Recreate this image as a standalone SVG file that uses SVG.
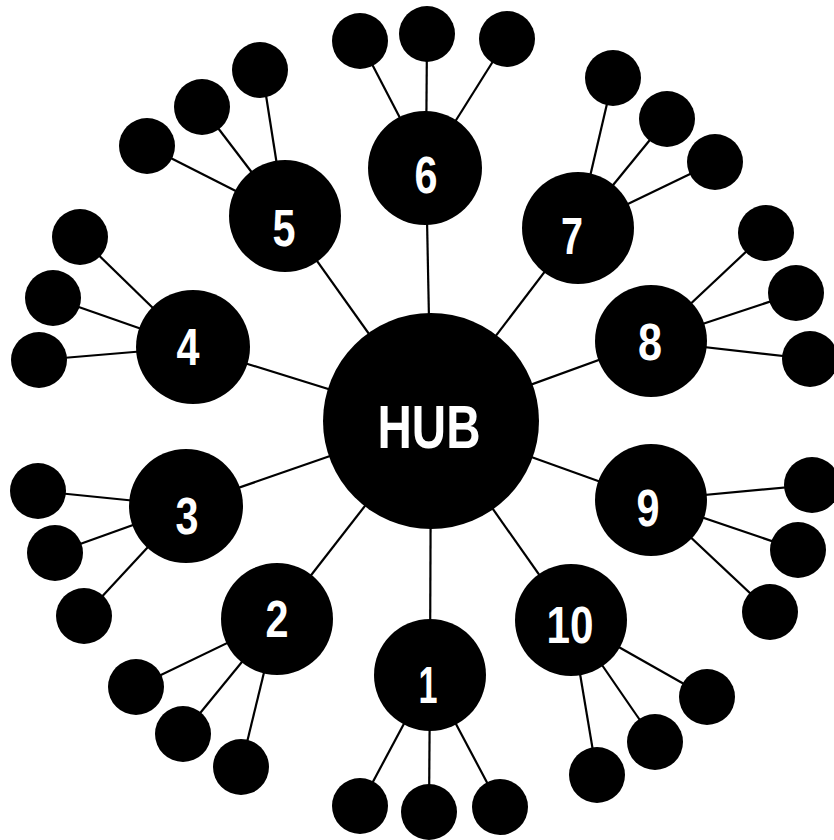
<svg xmlns="http://www.w3.org/2000/svg" width="834" height="840" viewBox="0 0 834 840">
<style>
.e{stroke:#000;stroke-width:2.2;fill:none}
.n{fill:#000}
.t{fill:#fff;font-family:"Liberation Sans",Arial,sans-serif;font-weight:bold;text-anchor:middle}
.d{font-size:52px}
.h{font-size:61px}
</style>
<rect width="834" height="840" fill="#fff"/>
<g id="connectors" class="e">
<line x1="431" y1="421" x2="430" y2="675"/>
<line x1="431" y1="421" x2="277" y2="619"/>
<line x1="431" y1="421" x2="186" y2="506"/>
<line x1="431" y1="421" x2="193" y2="347"/>
<line x1="431" y1="421" x2="285" y2="216"/>
<line x1="431" y1="421" x2="426" y2="168"/>
<line x1="431" y1="421" x2="578" y2="228"/>
<line x1="431" y1="421" x2="651" y2="341"/>
<line x1="431" y1="421" x2="651" y2="500"/>
<line x1="431" y1="421" x2="571" y2="620"/>
<line x1="430" y1="675" x2="360" y2="806"/>
<line x1="430" y1="675" x2="429" y2="812"/>
<line x1="430" y1="675" x2="500" y2="807"/>
<line x1="277" y1="619" x2="136" y2="687"/>
<line x1="277" y1="619" x2="183" y2="734"/>
<line x1="277" y1="619" x2="241" y2="767"/>
<line x1="186" y1="506" x2="38" y2="491"/>
<line x1="186" y1="506" x2="55" y2="553"/>
<line x1="186" y1="506" x2="84" y2="616"/>
<line x1="193" y1="347" x2="80" y2="237"/>
<line x1="193" y1="347" x2="53" y2="298"/>
<line x1="193" y1="347" x2="39" y2="360"/>
<line x1="285" y1="216" x2="147" y2="146"/>
<line x1="285" y1="216" x2="202" y2="107"/>
<line x1="285" y1="216" x2="262" y2="70"/>
<line x1="426" y1="168" x2="360" y2="41"/>
<line x1="426" y1="168" x2="427" y2="34"/>
<line x1="426" y1="168" x2="507" y2="39"/>
<line x1="578" y1="228" x2="613" y2="78"/>
<line x1="578" y1="228" x2="667" y2="119"/>
<line x1="578" y1="228" x2="715" y2="162"/>
<line x1="651" y1="341" x2="766" y2="233"/>
<line x1="651" y1="341" x2="796" y2="293"/>
<line x1="651" y1="341" x2="810" y2="359"/>
<line x1="651" y1="500" x2="812" y2="485"/>
<line x1="651" y1="500" x2="798" y2="550"/>
<line x1="651" y1="500" x2="770" y2="612"/>
<line x1="571" y1="620" x2="707" y2="697"/>
<line x1="571" y1="620" x2="655" y2="742"/>
<line x1="571" y1="620" x2="597" y2="775"/>
</g>
<g id="hub"><circle class="n" cx="431" cy="421" r="108"/><text class="t h" x="429" y="448" textLength="103" lengthAdjust="spacingAndGlyphs">HUB</text></g>
<g id="node1"><circle class="n" cx="430" cy="675" r="56"/><text class="t d" x="428" y="703" textLength="19" lengthAdjust="spacingAndGlyphs">1</text>
<circle class="n" cx="360" cy="806" r="28"/><circle class="n" cx="429" cy="812" r="28"/><circle class="n" cx="500" cy="807" r="28"/></g>
<g id="node2"><circle class="n" cx="277" cy="619" r="56"/><text class="t d" x="277" y="637" textLength="23" lengthAdjust="spacingAndGlyphs">2</text>
<circle class="n" cx="136" cy="687" r="28"/><circle class="n" cx="183" cy="734" r="28"/><circle class="n" cx="241" cy="767" r="28"/></g>
<g id="node3"><circle class="n" cx="186" cy="506" r="57"/><text class="t d" x="187" y="534" textLength="23" lengthAdjust="spacingAndGlyphs">3</text>
<circle class="n" cx="38" cy="491" r="28"/><circle class="n" cx="55" cy="553" r="28"/><circle class="n" cx="84" cy="616" r="28"/></g>
<g id="node4"><circle class="n" cx="193" cy="347" r="57"/><text class="t d" x="188" y="365" textLength="23" lengthAdjust="spacingAndGlyphs">4</text>
<circle class="n" cx="80" cy="237" r="28"/><circle class="n" cx="53" cy="298" r="28"/><circle class="n" cx="39" cy="360" r="28"/></g>
<g id="node5"><circle class="n" cx="285" cy="216" r="56"/><text class="t d" x="284" y="246" textLength="23" lengthAdjust="spacingAndGlyphs">5</text>
<circle class="n" cx="147" cy="146" r="28"/><circle class="n" cx="202" cy="107" r="28"/><circle class="n" cx="260" cy="70" r="28"/></g>
<g id="node6"><circle class="n" cx="425" cy="168" r="57"/><text class="t d" x="426" y="193" textLength="23" lengthAdjust="spacingAndGlyphs">6</text>
<circle class="n" cx="360" cy="41" r="28"/><circle class="n" cx="427" cy="34" r="28"/><circle class="n" cx="507" cy="39" r="28"/></g>
<g id="node7"><circle class="n" cx="578" cy="228" r="56"/><text class="t d" x="572" y="254" textLength="22" lengthAdjust="spacingAndGlyphs">7</text>
<circle class="n" cx="613" cy="78" r="28"/><circle class="n" cx="667" cy="119" r="28"/><circle class="n" cx="715" cy="162" r="28"/></g>
<g id="node8"><circle class="n" cx="651" cy="341" r="56"/><text class="t d" x="650" y="360" textLength="24" lengthAdjust="spacingAndGlyphs">8</text>
<circle class="n" cx="766" cy="233" r="28"/><circle class="n" cx="796" cy="293" r="28"/><circle class="n" cx="810" cy="359" r="28"/></g>
<g id="node9"><circle class="n" cx="651" cy="500" r="56"/><text class="t d" x="648" y="526" textLength="23" lengthAdjust="spacingAndGlyphs">9</text>
<circle class="n" cx="812" cy="485" r="28"/><circle class="n" cx="798" cy="550" r="28"/><circle class="n" cx="770" cy="612" r="28"/></g>
<g id="node10"><circle class="n" cx="571" cy="620" r="56"/><text class="t d" x="570" y="643" textLength="47" lengthAdjust="spacingAndGlyphs">10</text>
<circle class="n" cx="707" cy="697" r="28"/><circle class="n" cx="655" cy="742" r="28"/><circle class="n" cx="597" cy="775" r="28"/></g>
</svg>
